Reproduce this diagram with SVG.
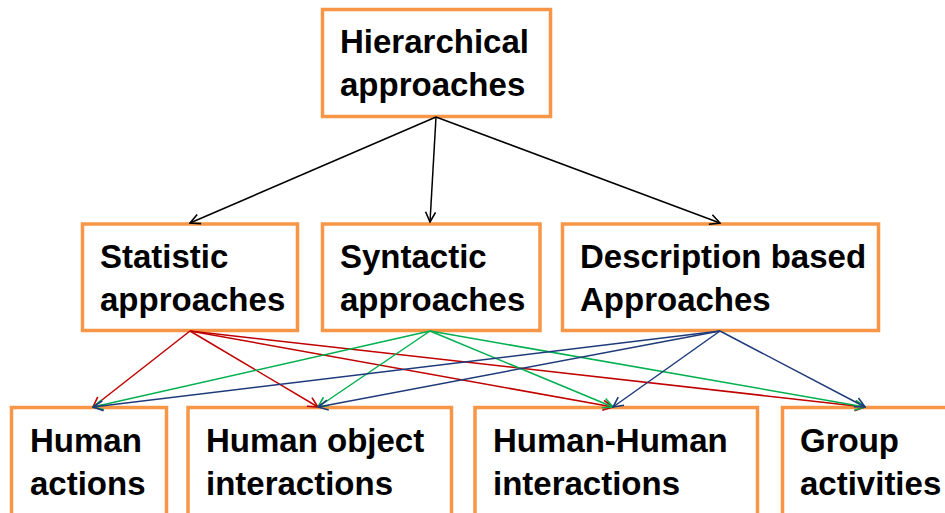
<svg xmlns="http://www.w3.org/2000/svg" width="945" height="513" viewBox="0 0 945 513">
<style>
.box{fill:#fff;stroke:#F79646;stroke-width:3.5}
.t{font-family:"Liberation Sans",Arial,sans-serif;font-weight:bold;font-size:33px;fill:#000}
.c{fill:none;stroke-width:1.5}
.k{stroke:#000}
.r{stroke:#C00000}
.g{stroke:#00B050}
.b{stroke:#1F3A7A}
</style>
<defs>
<marker id="mk" viewBox="0 0 12 12" refX="11" refY="6" markerWidth="12" markerHeight="12" markerUnits="userSpaceOnUse" orient="auto"><path d="M1,1 L11,6 L1,11" fill="none" stroke="#000" stroke-width="1.6"/></marker>
<marker id="mr" viewBox="0 0 12 12" refX="11" refY="6" markerWidth="12" markerHeight="12" markerUnits="userSpaceOnUse" orient="auto"><path d="M1,1 L11,6 L1,11" fill="none" stroke="#C00000" stroke-width="1.6"/></marker>
<marker id="mg" viewBox="0 0 12 12" refX="11" refY="6" markerWidth="12" markerHeight="12" markerUnits="userSpaceOnUse" orient="auto"><path d="M1,1 L11,6 L1,11" fill="none" stroke="#00B050" stroke-width="1.6"/></marker>
<marker id="mb" viewBox="0 0 12 12" refX="11" refY="6" markerWidth="12" markerHeight="12" markerUnits="userSpaceOnUse" orient="auto"><path d="M1,1 L11,6 L1,11" fill="none" stroke="#1F3A7A" stroke-width="1.6"/></marker>
</defs>
<rect width="945" height="513" fill="#fff"/>
<g id="hierarchical"><rect class="box" x="322.5" y="9.5" width="228" height="107"/><text class="t" x="340" y="53">Hierarchical</text><text class="t" x="340" y="96">approaches</text></g>
<g id="statistic"><rect class="box" x="82.5" y="224" width="215" height="106.5"/><text class="t" x="100" y="268">Statistic</text><text class="t" x="100" y="311">approaches</text></g>
<g id="syntactic"><rect class="box" x="322.5" y="224" width="217.5" height="106.5"/><text class="t" x="340" y="268">Syntactic</text><text class="t" x="340" y="311">approaches</text></g>
<g id="description"><rect class="box" x="562.5" y="224" width="316" height="106.5"/><text class="t" x="580" y="268">Description based</text><text class="t" x="580" y="311">Approaches</text></g>
<g id="human-actions"><rect class="box" x="11.5" y="407.5" width="155" height="120"/><text class="t" x="30" y="452">Human</text><text class="t" x="30" y="495">actions</text></g>
<g id="human-object"><rect class="box" x="188" y="407.5" width="263.5" height="120"/><text class="t" x="206" y="452">Human object</text><text class="t" x="206" y="495">interactions</text></g>
<g id="human-human"><rect class="box" x="475" y="407.5" width="282.5" height="120"/><text class="t" x="493" y="452">Human-Human</text><text class="t" x="493" y="495">interactions</text></g>
<g id="group"><rect class="box" x="782.5" y="407.5" width="175" height="120"/><text class="t" x="800" y="452">Group</text><text class="t" x="800" y="495">activities</text></g>
<g id="connectors">
<line class="c k" x1="436" y1="117" x2="190" y2="223" marker-end="url(#mk)"/>
<line class="c k" x1="436" y1="117" x2="430" y2="222" marker-end="url(#mk)"/>
<line class="c k" x1="436" y1="117" x2="720" y2="223" marker-end="url(#mk)"/>
<line class="c r" x1="190" y1="331" x2="93" y2="407" marker-end="url(#mr)"/>
<line class="c r" x1="190" y1="331" x2="318" y2="407" marker-end="url(#mr)"/>
<line class="c r" x1="190" y1="331" x2="613" y2="407" marker-end="url(#mr)"/>
<line class="c r" x1="190" y1="331" x2="865" y2="407" marker-end="url(#mr)"/>
<line class="c g" x1="430" y1="331" x2="93" y2="407" marker-end="url(#mg)"/>
<line class="c g" x1="430" y1="331" x2="318" y2="407" marker-end="url(#mg)"/>
<line class="c g" x1="430" y1="331" x2="613" y2="407" marker-end="url(#mg)"/>
<line class="c g" x1="430" y1="331" x2="865" y2="407" marker-end="url(#mg)"/>
<line class="c b" x1="720" y1="331" x2="93" y2="407" marker-end="url(#mb)"/>
<line class="c b" x1="720" y1="331" x2="318" y2="407" marker-end="url(#mb)"/>
<line class="c b" x1="720" y1="331" x2="613" y2="407" marker-end="url(#mb)"/>
<line class="c b" x1="720" y1="331" x2="865" y2="407" marker-end="url(#mb)"/>
</g>
</svg>
